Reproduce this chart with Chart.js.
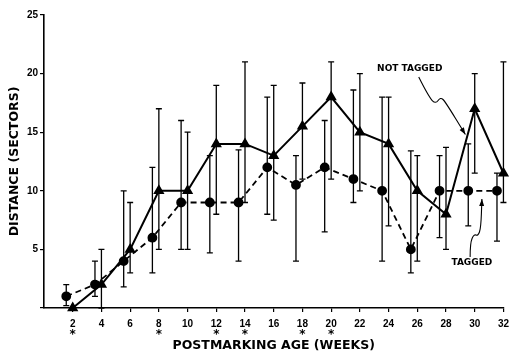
<!DOCTYPE html>
<html>
<head>
<meta charset="utf-8">
<title>Distance vs postmarking age</title>
<script src="https://cdn.jsdelivr.net/npm/chart.js@4"></script>
<style>
  html, body { margin: 0; padding: 0; background: #fff; }
  #wrap { width: 516px; height: 353px; }
</style>
</head>
<body>
<div id="wrap"><canvas id="chart"></canvas></div>
<script>
// ─── Data ────────────────────────────────────────────────────
const weeks        = [2, 4, 6, 8, 10, 12, 14, 16, 18, 20, 22, 24, 26, 28, 30, 32];
const starredWeeks = [2, 8, 12, 14, 18, 20];
const yTicks       = [0, 5, 10, 15, 20, 25];

const notTaggedMean = [0, 2, 5, 10, 10, 14, 14, 13, 15.5, 18, 15, 14, 10, 8, 17, 11.5];
const notTaggedHigh = [0, 5, 9, 17, 15, 19, 21, 19, 19.2, 21, 20, 18, 13, 13.7, 20, 21];
const notTaggedLow  = [0, 0, 3, 5, 5, 8, 9, 7.5, 11, 11, 10, 7, 4, 5, 11.5, 9];

const taggedMean = [1, 2, 4, 6, 9, 9, 9, 12, 10.5, 12, 11, 10, 5, 10, 10, 10];
const taggedHigh = [2, 4, 10, 12, 16, 13, 13.5, 18, 13, 16, 18.6, 18, 13.4, 13, 14, 11.5];
const taggedLow  = [0.2, 1, 1.8, 3, 5, 4.7, 4, 8, 4, 6.5, 9, 4, 3, 6, 7, 5.7];

// tagged points sit a little left of their week in the figure
const TAGGED_SHIFT = -0.45;

// hand-drawn label arrows, in data units (week, sectors)
const notTaggedArrow = [[26.1, 19.7], [26.8, 18.0], [27.28, 17.4], [27.62, 18.0], [27.96, 17.58], [29.35, 14.8]];
const taggedArrow    = [[29.68, 4.35], [29.68, 5.55], [29.95, 6.31], [30.23, 6.14], [30.43, 6.83], [30.5, 9.3]];

const toPoints = (mean, hi, lo, shift) =>
  weeks.map((w, i) => ({ x: w + shift, y: mean[i], hi: hi[i], lo: lo[i] }));

// ─── Plugins ─────────────────────────────────────────────────
const errorBars = {
  id: 'errorBars',
  afterDatasetsDraw(chart) {
    const { ctx, scales: { x, y } } = chart;
    ctx.save();
    ctx.strokeStyle = '#000';
    ctx.lineWidth = 1.3;
    chart.data.datasets.forEach(ds => {
      ds.data.forEach(p => {
        if (p.hi === p.lo) return;
        const px  = x.getPixelForValue(p.x);
        const top = y.getPixelForValue(p.hi);
        const bot = y.getPixelForValue(p.lo);
        ctx.beginPath();
        ctx.moveTo(px, top); ctx.lineTo(px, bot);
        ctx.moveTo(px - 3, top); ctx.lineTo(px + 3, top);
        ctx.moveTo(px - 3, bot); ctx.lineTo(px + 3, bot);
        ctx.stroke();
      });
    });
    ctx.restore();
  }
};

// significance stars under some week labels
const stars = {
  id: 'stars',
  afterDraw(chart) {
    const { ctx, scales: { x } } = chart;
    ctx.save();
    ctx.fillStyle = '#000';
    ctx.font = 'bold 12px "DejaVu Sans"';
    ctx.textAlign = 'center';
    ctx.textBaseline = 'alphabetic';
    starredWeeks.forEach(w => ctx.fillText('*', x.getPixelForValue(w), x.top + 30));
    ctx.restore();
  }
};

function drawSquiggle(ctx, pts) {
  ctx.beginPath();
  ctx.moveTo(pts[0][0], pts[0][1]);
  for (let i = 1; i < pts.length - 1; i++) {
    const mx = (pts[i][0] + pts[i + 1][0]) / 2;
    const my = (pts[i][1] + pts[i + 1][1]) / 2;
    ctx.quadraticCurveTo(pts[i][0], pts[i][1], mx, my);
  }
  const a = pts[pts.length - 2], b = pts[pts.length - 1];
  ctx.lineTo(b[0], b[1]);
  ctx.stroke();
  // arrow head
  const ang = Math.atan2(b[1] - a[1], b[0] - a[0]);
  ctx.beginPath();
  ctx.moveTo(b[0], b[1]);
  ctx.lineTo(b[0] - 7 * Math.cos(ang) + 2.5 * Math.sin(ang), b[1] - 7 * Math.sin(ang) - 2.5 * Math.cos(ang));
  ctx.lineTo(b[0] - 7 * Math.cos(ang) - 2.5 * Math.sin(ang), b[1] - 7 * Math.sin(ang) + 2.5 * Math.cos(ang));
  ctx.closePath();
  ctx.fill();
}

const labels = {
  id: 'seriesLabels',
  afterDatasetsDraw(chart) {
    const { ctx, scales: { x, y } } = chart;
    const px = p => [x.getPixelForValue(p[0]), y.getPixelForValue(p[1])];
    ctx.save();
    ctx.fillStyle = '#000';
    ctx.strokeStyle = '#000';
    ctx.lineWidth = 1.1;
    ctx.font = 'bold 9px "DejaVu Sans"';
    ctx.textBaseline = 'middle';
    ctx.textAlign = 'left';
    const [nx, ny] = px([23.2, 20.4]);
    ctx.fillText('NOT TAGGED', nx, ny);
    ctx.textAlign = 'center';
    const [tx, ty] = px([29.8, 3.85]);
    ctx.fillText('TAGGED', tx, ty);
    drawSquiggle(ctx, notTaggedArrow.map(px));
    drawSquiggle(ctx, taggedArrow.map(px));
    ctx.restore();
  }
};

// ─── Chart ───────────────────────────────────────────────────
const tickFont  = { family: '"Liberation Sans", Arial, sans-serif', size: 10, weight: 'bold', lineHeight: 0.95 };
const titleFont = { family: '"DejaVu Sans", sans-serif', size: 12.5, weight: 'bold', lineHeight: 1.2 };

new Chart(document.getElementById('chart'), {
  type: 'line',
  data: {
    datasets: [
      {
        label: 'Not tagged',
        data: toPoints(notTaggedMean, notTaggedHigh, notTaggedLow, 0),
        borderColor: '#000',
        backgroundColor: '#000',
        borderWidth: 2,
        pointStyle: 'triangle',
        pointRadius: 4.5,
        clip: false,
      },
      {
        label: 'Tagged',
        data: toPoints(taggedMean, taggedHigh, taggedLow, TAGGED_SHIFT),
        borderColor: '#000',
        backgroundColor: '#000',
        borderWidth: 1.8,
        borderDash: [6, 4],
        pointStyle: 'circle',
        pointRadius: 4,
        clip: false,
      }
    ]
  },
  options: {
    responsive: true,
    maintainAspectRatio: false,
    animation: false,
    layout: { padding: { top: 15, right: 6, left: 0, bottom: 0 } },
    plugins: {
      legend: { display: false },
      tooltip: { enabled: false },
    },
    scales: {
      x: {
        type: 'linear',
        min: 0,
        max: 32,
        afterBuildTicks: ax => { ax.ticks = weeks.map(v => ({ value: v })); },
        afterFit: ax => { ax.height = 45; },
        grid: { drawOnChartArea: false, drawTicks: true, tickLength: 4, color: '#000', lineWidth: 1.2 },
        border: { display: true, color: '#000', width: 1.6 },
        ticks: {
          color: '#000',
          font: tickFont,
          padding: 7,
          maxRotation: 0,
          autoSkip: false,
          callback: v => String(v),
        },
        title: {
          display: true,
          text: 'POSTMARKING AGE (WEEKS)',
          color: '#000',
          font: titleFont,
          padding: { top: 0, bottom: 0 },
        }
      },
      y: {
        min: 0,
        max: 25,
        afterBuildTicks: ax => { ax.ticks = yTicks.map(v => ({ value: v })); },
        afterFit: ax => { ax.width = 44; },
        grid: { drawOnChartArea: false, drawTicks: true, tickLength: 4, color: '#000', lineWidth: 1.2 },
        border: { display: true, color: '#000', width: 1.6 },
        ticks: {
          color: '#000',
          font: tickFont,
          padding: 2,
          callback: v => v === 0 ? '' : String(v),
        },
        title: {
          display: true,
          text: 'DISTANCE (SECTORS)',
          color: '#000',
          font: titleFont,
          padding: { top: 7.5, bottom: 0 },
        }
      }
    }
  },
  plugins: [errorBars, stars, labels]
});
</script>
</body>
</html>
